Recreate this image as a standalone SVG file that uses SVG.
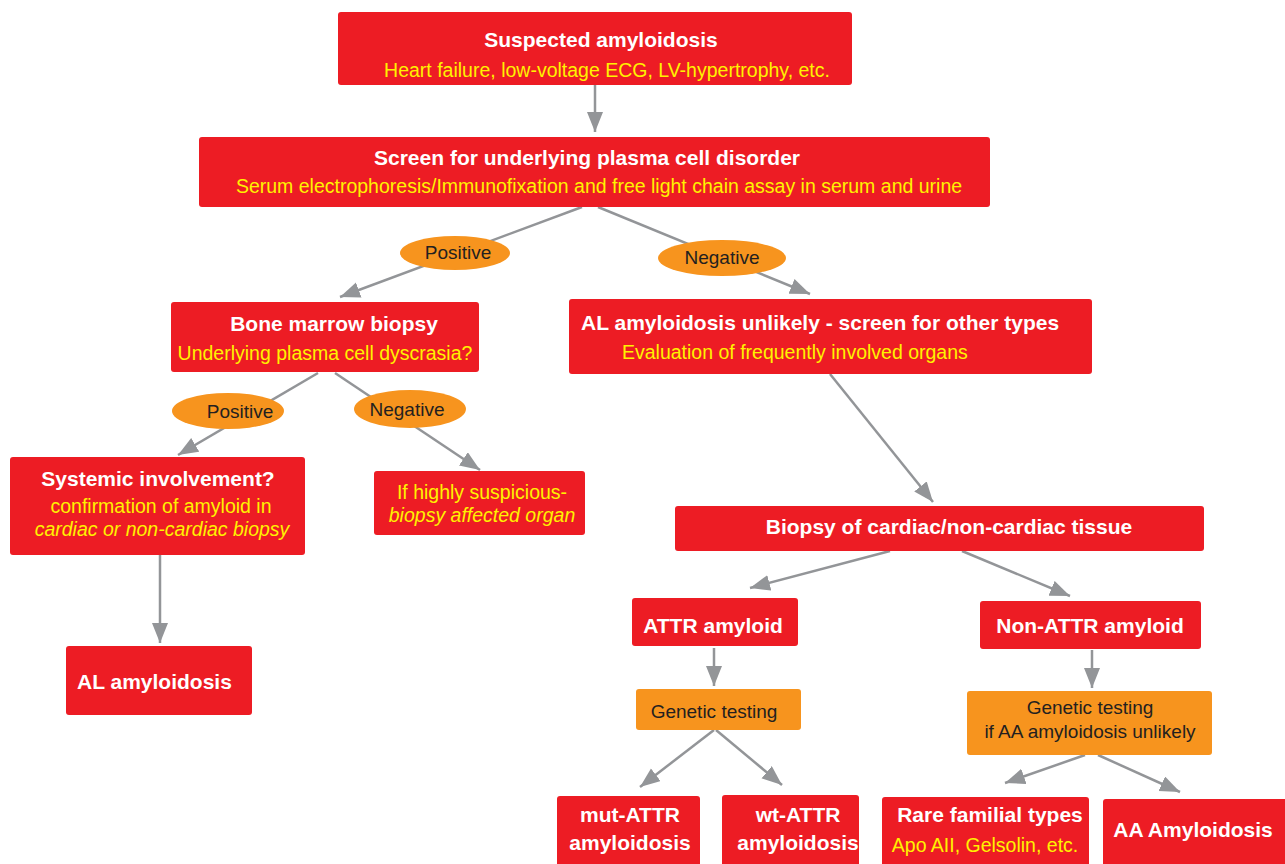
<svg xmlns="http://www.w3.org/2000/svg" width="1285" height="864" viewBox="0 0 1285 864">
<defs>
<marker id="ah" markerUnits="userSpaceOnUse" markerWidth="22" markerHeight="18" refX="20" refY="8" orient="auto">
<path d="M0,0 L20,8 L0,16 z" fill="#939598"/>
</marker>
<style>
.box{fill:#ED1C24;}
.obox{fill:#F7941E;}
.t{font-family:"Liberation Sans",Arial,sans-serif;font-weight:bold;font-size:21px;fill:#FFFFFF;}
.s{font-family:"Liberation Sans",Arial,sans-serif;font-size:19.5px;fill:#FFF200;}
.o{font-family:"Liberation Sans",Arial,sans-serif;font-size:19px;fill:#231F20;}
.c{stroke:#939598;stroke-width:2.5;fill:none;}
.a{stroke:#939598;stroke-width:2.5;fill:none;marker-end:url(#ah);}
</style>
</defs>
<rect width="1285" height="864" fill="#FFFFFF"/>

<g id="connectors">
<line class="a" x1="595" y1="85" x2="595" y2="132"/>
<line class="a" x1="582" y1="207" x2="340" y2="297"/>
<line class="a" x1="598" y1="207" x2="810" y2="294"/>
<line class="a" x1="318" y1="373" x2="178" y2="455"/>
<line class="a" x1="335" y1="373" x2="480" y2="470"/>
<line class="a" x1="160" y1="555" x2="160" y2="643"/>
<line class="a" x1="830" y1="374" x2="933" y2="502"/>
<line class="a" x1="890" y1="551" x2="750" y2="588"/>
<line class="a" x1="962" y1="551" x2="1070" y2="596"/>
<line class="a" x1="714" y1="648" x2="714" y2="686"/>
<line class="a" x1="1092" y1="650" x2="1092" y2="688"/>
<line class="a" x1="714" y1="730" x2="640" y2="787"/>
<line class="a" x1="716" y1="730" x2="782" y2="785"/>
<line class="a" x1="1085" y1="755" x2="1005" y2="783"/>
<line class="a" x1="1098" y1="755" x2="1180" y2="792"/>
</g>

<g id="lbl-pos1"><ellipse class="obox" cx="455" cy="253" rx="55" ry="17"/><text class="o" x="458" y="259" text-anchor="middle">Positive</text></g>
<g id="lbl-neg1"><ellipse class="obox" cx="722" cy="258" rx="64" ry="18"/><text class="o" x="722" y="264" text-anchor="middle">Negative</text></g>
<g id="lbl-pos2"><ellipse class="obox" cx="228" cy="411" rx="56" ry="18"/><text class="o" x="240" y="418" text-anchor="middle">Positive</text></g>
<g id="lbl-neg2"><ellipse class="obox" cx="410" cy="409" rx="56" ry="19"/><text class="o" x="407" y="416" text-anchor="middle">Negative</text></g>

<g id="n-suspected">
<rect class="box" x="338" y="12" width="514" height="73" rx="3"/>
<text class="t" x="601" y="47" text-anchor="middle">Suspected amyloidosis</text>
<text class="s" x="607" y="77" text-anchor="middle">Heart failure, low-voltage ECG, LV-hypertrophy, etc.</text>
</g>

<g id="n-screen">
<rect class="box" x="199" y="137" width="791" height="70" rx="3"/>
<text class="t" x="587" y="165" text-anchor="middle">Screen for underlying plasma cell disorder</text>
<text class="s" x="599" y="193" text-anchor="middle">Serum electrophoresis/Immunofixation and free light chain assay in serum and urine</text>
</g>

<g id="n-bone">
<rect class="box" x="171" y="302" width="308" height="70" rx="3"/>
<text class="t" x="334" y="331" text-anchor="middle">Bone marrow biopsy</text>
<text class="s" x="325" y="360" text-anchor="middle">Underlying plasma cell dyscrasia?</text>
</g>

<g id="n-unlikely">
<rect class="box" x="569" y="299" width="523" height="75" rx="3"/>
<text class="t" x="581" y="330">AL amyloidosis unlikely - screen for other types</text>
<text class="s" x="622" y="359">Evaluation of frequently involved organs</text>
</g>

<g id="n-systemic">
<rect class="box" x="10" y="457" width="295" height="98" rx="3"/>
<text class="t" x="158" y="486" text-anchor="middle">Systemic involvement?</text>
<text class="s" x="161" y="513" text-anchor="middle">confirmation of amyloid in</text>
<text class="s" x="162" y="536" text-anchor="middle" font-style="italic">cardiac or non-cardiac biopsy</text>
</g>

<g id="n-suspicious">
<rect class="box" x="374" y="471" width="211" height="64" rx="3"/>
<text class="s" x="482" y="499" text-anchor="middle">If highly suspicious-</text>
<text class="s" x="482" y="522" text-anchor="middle" font-style="italic">biopsy affected organ</text>
</g>

<g id="n-al">
<rect class="box" x="66" y="646" width="186" height="69" rx="3"/>
<text class="t" x="77" y="689">AL amyloidosis</text>
</g>

<g id="n-biopsy">
<rect class="box" x="675" y="506" width="529" height="45" rx="3"/>
<text class="t" x="949" y="534" text-anchor="middle">Biopsy of cardiac/non-cardiac tissue</text>
</g>

<g id="n-attr">
<rect class="box" x="632" y="598" width="166" height="48" rx="3"/>
<text class="t" x="713" y="633" text-anchor="middle">ATTR amyloid</text>
</g>

<g id="n-nonattr">
<rect class="box" x="980" y="601" width="221" height="48" rx="3"/>
<text class="t" x="1090" y="633" text-anchor="middle">Non-ATTR amyloid</text>
</g>

<g id="n-gen1">
<rect class="obox" x="636" y="689" width="165" height="41" rx="3"/>
<text class="o" x="714" y="718" text-anchor="middle">Genetic testing</text>
</g>

<g id="n-gen2">
<rect class="obox" x="967" y="691" width="245" height="64" rx="3"/>
<text class="o" x="1090" y="714" text-anchor="middle">Genetic testing</text>
<text class="o" x="1090" y="738" text-anchor="middle">if AA amyloidosis unlikely</text>
</g>

<g id="n-mut">
<rect class="box" x="557" y="796" width="143" height="72" rx="3"/>
<text class="t" x="630" y="822" text-anchor="middle">mut-ATTR</text>
<text class="t" x="630" y="850" text-anchor="middle">amyloidosis</text>
</g>

<g id="n-wt">
<rect class="box" x="722" y="795" width="137" height="73" rx="3"/>
<text class="t" x="798" y="822" text-anchor="middle">wt-ATTR</text>
<text class="t" x="798" y="850" text-anchor="middle">amyloidosis</text>
</g>

<g id="n-rare">
<rect class="box" x="882" y="797" width="207" height="71" rx="3"/>
<text class="t" x="990" y="822" text-anchor="middle">Rare familial types</text>
<text class="s" x="985" y="852" text-anchor="middle">Apo AII, Gelsolin, etc.</text>
</g>

<g id="n-aa">
<rect class="box" x="1103" y="799" width="186" height="69" rx="3"/>
<text class="t" x="1193" y="837" text-anchor="middle">AA Amyloidosis</text>
</g>
</svg>
